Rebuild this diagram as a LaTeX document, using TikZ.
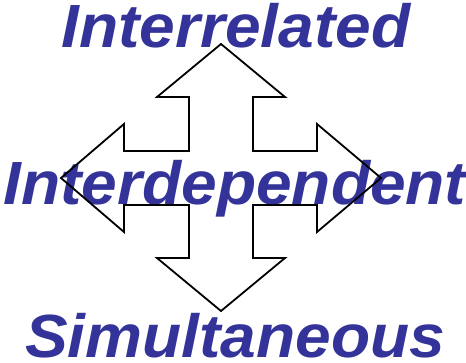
\documentclass[tikz,border=0pt]{standalone}
\usepackage{fontspec}
\setmainfont{Liberation Sans}
\definecolor{wordblue}{HTML}{333399}
\begin{document}
\begin{tikzpicture}[x=1pt,y=-1pt,
  word/.style={inner sep=0pt,anchor=base,text=wordblue,xscale=1.05,transform shape,font=\fontsize{61}{66}\selectfont\bfseries\itshape},
  crossarrow/.style={draw=black,line width=1.8pt,line join=miter}]
\useasboundingbox (0,0) rectangle (466,363);
\node[word] (top) at (236,48) {Interrelated};
\node[word] (mid) at (235,205) {Interdependent};
\node[word] (bot) at (235,358) {Simultaneous};
\draw[crossarrow] (221,44) -- (285,97) -- (253,97) -- (253,151) -- (317,151) -- (317,124)
  -- (381,178) -- (317,232) -- (317,205) -- (253,205) -- (253,258) -- (285,258)
  -- (221,311) -- (157,258) -- (189,258) -- (189,205) -- (124,205) -- (124,232)
  -- (61,178) -- (124,124) -- (124,151) -- (189,151) -- (189,97) -- (157,97) -- cycle;
\end{tikzpicture}
\end{document}
